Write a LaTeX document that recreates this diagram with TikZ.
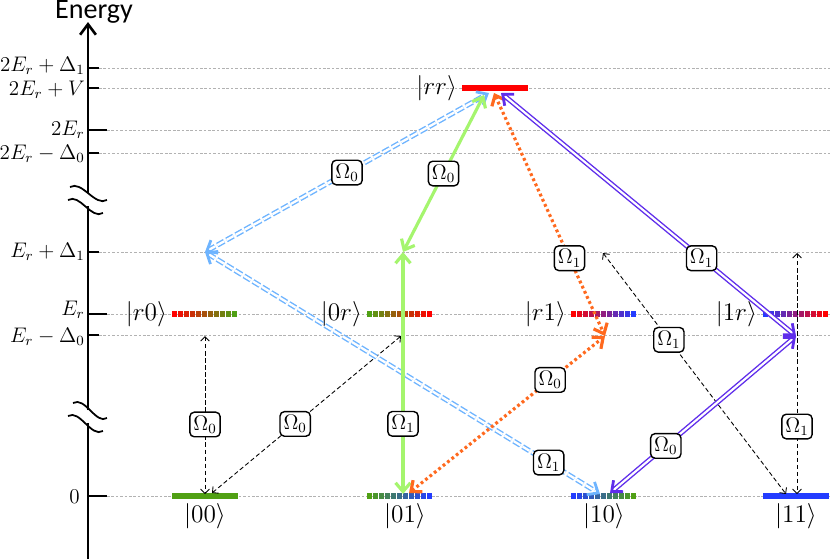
\documentclass[tikz,border=0pt]{standalone}
\usepackage{amsmath}
\usepackage[no-math]{fontspec}
\newfontfamily\axisfont{Carlito}
\usepackage{tikz}
\usetikzlibrary{arrows.meta}

\definecolor{lvgreen}{RGB}{80,160,20}
\definecolor{lvblue}{RGB}{35,60,255}
\definecolor{lvred}{RGB}{255,0,0}
\definecolor{skyarrow}{RGB}{110,180,255}
\definecolor{limearrow}{RGB}{165,245,110}
\definecolor{orangearrow}{RGB}{255,105,30}
\definecolor{violetarrow}{RGB}{95,45,235}

% striped level bar: left x, y, left colour, right colour
\newcommand{\gradbar}[4]{%
  \foreach \i in {0,...,10}{%
    \pgfmathtruncatemacro{\pc}{100-10*\i}
    \draw[line width=2.9pt, #3!\pc!#4] (#1+6*\i,#2) -- ++(5,0);
  }}

\begin{document}
\begin{tikzpicture}[x=0.02cm, y=-0.02cm,
    axisline/.style={line width=1.5pt},
    guide/.style={black!30, line width=0.4pt, dash pattern=on 1.5pt off 1pt},
    bar/.style={line width=2.9pt},
    ket/.style={font=\fontsize{14}{16}\selectfont, inner sep=1pt},
    elabel/.style={font=\fontsize{11.5}{13}\selectfont, anchor=east, inner sep=0pt},
    omega/.style={draw=black, text=black, solid, rounded corners=2.5pt, fill=white,
      line width=0.8pt, inner sep=2pt, font=\fontsize{12}{14}\selectfont},
    skyline/.style={skyarrow, line width=0.8pt, double=white, double distance=1.3pt,
      dash pattern=on 4.5pt off 1.5pt,
      >={Straight Barb[length=5pt,width=8.5pt,line width=1.6pt]}, <->},
    limeline/.style={limearrow, line width=1.8pt, >={Straight Barb[length=5pt,width=8.5pt]}, <->},
    orangeline/.style={orangearrow, line width=1.8pt, dash pattern=on 1.6pt off 1.6pt,
      >={Straight Barb[length=5pt,width=8.5pt]}, <->},
    violetline/.style={violetarrow, line width=0.8pt, double=white, double distance=1.2pt,
      >={Straight Barb[length=5pt,width=8.5pt,line width=1.6pt]}, <->},
    probe/.style={black, line width=0.5pt, dash pattern=on 2.5pt off 1.5pt,
      >={Straight Barb[length=2.5pt,width=5pt]}, <->}
  ]
  \useasboundingbox (0,0) rectangle (830,559);

  % energy axis with two breaks
  \coordinate (axbot) at (88,559);
  \coordinate (axtop) at (88,22);
  \draw[axisline] (axbot) -- (88,423);
  \draw[axisline] (88,410) -- (88,206);
  \draw[axisline, -{Straight Barb[length=6pt,width=9pt]}] (88,193) -- (axtop);
  \draw[line width=1pt] (70,187) .. controls (82,180) and (95,207) .. (107,200);
  \draw[line width=1pt] (68,200) .. controls (80,193) and (91,220) .. (103,213);
  \draw[line width=1pt] (73,403) .. controls (85,396) and (96,425) .. (107,418);
  \draw[line width=1pt] (68,416) .. controls (80,409) and (91,438) .. (103,431);
  \node[font=\axisfont\fontsize{16}{18}\selectfont] (energy) at (94,12) {Energy};

  % ticks and guide lines
  \foreach \y/\e in {68/99, 88/99, 130/107, 153/99, 252/99, 314/107, 335/99, 496/107}{
    \draw[axisline] (88,\y) -- (\e,\y);
    \draw[guide] (\e,\y) -- (830,\y);
  }
  \node[elabel] (e1) at (85,66) {$2E_r+\Delta_1$};
  \node[elabel] (e2) at (85,90) {$2E_r+V$};
  \node[elabel] (e3) at (85,130) {$2E_r$};
  \node[elabel] (e4) at (85,154) {$2E_r-\Delta_0$};
  \node[elabel] (e5) at (85,252) {$E_r+\Delta_1$};
  \node[elabel] (e6) at (85,310) {$E_r$};
  \node[elabel] (e7) at (85,337) {$E_r-\Delta_0$};
  \node[elabel] (e8) at (80,497) {$0$};

  % levels
  \draw[bar, lvgreen] (172,496) -- (238,496);
  \gradbar{367}{496}{lvgreen}{lvblue}
  \gradbar{571}{496}{lvblue}{lvgreen}
  \draw[bar, lvblue] (763,496) -- (829,496);
  \gradbar{172}{314}{lvred}{lvgreen}
  \gradbar{367}{314}{lvgreen}{lvred}
  \gradbar{571}{314}{lvred}{lvblue}
  \gradbar{763}{314}{lvblue}{lvred}
  \draw[bar, lvred] (462,88) -- (528,88);

  \node[ket, anchor=east] (kr0) at (169,314) {$|r0\rangle$};
  \node[ket, anchor=east] (k0r) at (364,314) {$|0r\rangle$};
  \node[ket, anchor=east] (kr1) at (568,314) {$|r1\rangle$};
  \node[ket, anchor=east] (k1r) at (759,314) {$|1r\rangle$};
  \node[ket, anchor=east] (krr) at (459,88) {$|rr\rangle$};
  \node[ket, anchor=north] (k00) at (205,501) {$|00\rangle$};
  \node[ket, anchor=north] (k01) at (405,501) {$|01\rangle$};
  \node[ket, anchor=north] (k10) at (604,501) {$|10\rangle$};
  \node[ket, anchor=north] (k11) at (796,501) {$|11\rangle$};

  % ends of the transitions
  \coordinate (rrS) at (489,93);
  \coordinate (rrL) at (484,95);
  \coordinate (rrO) at (494,93);
  \coordinate (rrV) at (501,93);
  \coordinate (upS) at (205,252);
  \coordinate (upL) at (403,252);
  \coordinate (dnO) at (605,336);
  \coordinate (dnV) at (796,336);
  \coordinate (g01L) at (403,494);
  \coordinate (g01O) at (409,493);
  \coordinate (g10S) at (600,494);
  \coordinate (g10V) at (610,493);
  \coordinate (g00a) at (205,494);
  \coordinate (g00b) at (212,493);
  \coordinate (topa) at (205,336);
  \coordinate (topb) at (401,336);
  \coordinate (topc) at (603,253);
  \coordinate (g11a) at (786,494);
  \coordinate (topd) at (797,253);
  \coordinate (g11b) at (797,494);

  % single-photon dashed transitions
  \draw[probe] (topa) -- (g00a);
  \draw[probe] (g00b) -- (topb);
  \draw[probe] (topc) -- (g11a);
  \draw[probe] (topd) -- (g11b);

  % two-photon paths
  \draw[skyline] (upS) -- (rrS);
  \draw[skyline] (upS) -- (g10S);
  \draw[limeline] (upL) -- (rrL);
  \draw[limeline] (upL) -- (g01L);
  \draw[orangeline] (rrO) -- (dnO);
  \draw[orangeline] (g01O) -- (dnO);
  \draw[violetline] (rrV) -- (dnV);
  \draw[violetline] (dnV) -- (g10V);

  % Rabi frequency labels
  \path (upS) -- (rrS) node[omega, pos=0.5] (w1) {$\Omega_0$};
  \path (upL) -- (rrL) node[omega, pos=0.5] (w2) {$\Omega_0$};
  \path (rrO) -- (dnO) node[omega, pos=0.68] (w3) {$\Omega_1$};
  \path (rrV) -- (dnV) node[omega, pos=0.68] (w4) {$\Omega_1$};
  \path (upS) -- (g10S) node[omega, pos=0.87] (w5) {$\Omega_1$};
  \path (upL) -- (g01L) node[omega, pos=0.71] (w6) {$\Omega_1$};
  \path (g01O) -- (dnO) node[omega, pos=0.72] (w7) {$\Omega_0$};
  \path (dnV) -- (g10V) node[omega, pos=0.70] (w8) {$\Omega_0$};
  \path (topa) -- (g00a) node[omega, pos=0.56] (w9) {$\Omega_0$};
  \path (g00b) -- (topb) node[omega, pos=0.44] (w10) {$\Omega_0$};
  \path (topc) -- (g11a) node[omega, pos=0.36] (w11) {$\Omega_1$};
  \path (topd) -- (g11b) node[omega, pos=0.72] (w12) {$\Omega_1$};
\end{tikzpicture}
\end{document}
